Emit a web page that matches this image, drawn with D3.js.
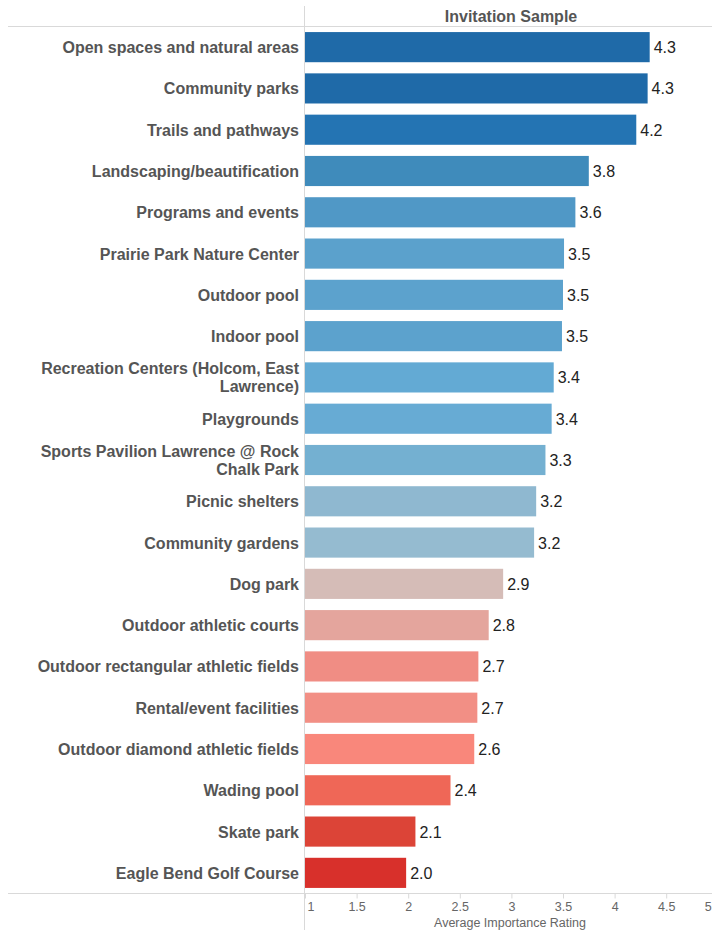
<!DOCTYPE html>
<html><head><meta charset="utf-8">
<script src="https://cdn.jsdelivr.net/npm/d3@7"></script>
<style>body{margin:0;background:#fff;}svg{display:block;font-family:"Liberation Sans",Arial,sans-serif;}</style>
</head><body><svg id="chart" width="712" height="930"></svg>
<script>
const categories = ["Open spaces and natural areas","Community parks","Trails and pathways","Landscaping/beautification","Programs and events","Prairie Park Nature Center","Outdoor pool","Indoor pool","Recreation Centers (Holcom, East Lawrence)","Playgrounds","Sports Pavilion Lawrence @ Rock Chalk Park","Picnic shelters","Community gardens","Dog park","Outdoor athletic courts","Outdoor rectangular athletic fields","Rental/event facilities","Outdoor diamond athletic fields","Wading pool","Skate park","Eagle Bend Golf Course"];
const values = [4.34,4.32,4.21,3.75,3.62,3.51,3.50,3.49,3.41,3.39,3.33,3.24,3.22,2.92,2.78,2.68,2.67,2.64,2.41,2.07,1.98];
const barColors = ["#1f6aa8","#1f6aa8","#2474b3","#3f8bbb","#5098c6","#5ba1cc","#5ca2cd","#5ca2cd","#63aad4","#67abd4","#74b0d1","#8fb8d0","#95bbd0","#d5bcb7","#e4a59d","#f08d84","#f28f85","#f9877b","#ef6757","#dc4437","#d8302b"];
const tickValues = [1,1.5,2,2.5,3,3.5,4,4.5,5];
const headerTitle = "Invitation Sample";
const axisTitle = "Average Importance Rating";

const svg = d3.select("#chart");
const x = d3.scaleLinear().domain([1,5]).range([305, 717.8]);
const y = d3.scaleBand().domain(categories).range([26.5, 893.5]).padding(0);
const barH = y.bandwidth()*0.73;

svg.append("line").attr("x1",8).attr("x2",712).attr("y1",26.5).attr("y2",26.5).attr("stroke","#d9d9d9");
svg.append("line").attr("x1",8).attr("x2",712).attr("y1",893.5).attr("y2",893.5).attr("stroke","#d9d9d9");
svg.append("line").attr("x1",304.5).attr("x2",304.5).attr("y1",6).attr("y2",930).attr("stroke","#d9d9d9");

svg.append("text").attr("x",511).attr("y",21.5).attr("text-anchor","middle")
  .attr("font-size",16).attr("font-weight","bold").attr("fill","#555").text(headerTitle);

svg.append("g").selectAll("rect").data(categories).join("rect")
  .attr("x", x(1)).attr("y", d=>y(d)+(y.bandwidth()-barH)/2)
  .attr("width",(d,i)=>x(values[i])-x(1)).attr("height",barH)
  .attr("fill",(d,i)=>barColors[i]);

svg.append("g").selectAll("text").data(categories).join("text")
  .attr("x",(d,i)=>x(values[i])+4).attr("y",d=>y(d)+y.bandwidth()/2+6)
  .attr("font-size",16).attr("fill","#222").text((d,i)=>values[i].toFixed(1));

const lg = svg.append("g");
categories.forEach(c=>{
  const t = lg.append("text").attr("x",299).attr("text-anchor","end")
    .attr("font-size",16).attr("font-weight","bold").attr("fill","#555");
  const words = c.split(" ");
  let lines=[], cur=[];
  const tmp = t.append("tspan");
  words.forEach(w=>{
    const test = cur.concat([w]).join(" ");
    tmp.text(test);
    if (tmp.node().getComputedTextLength() > 268 && cur.length){ lines.push(cur.join(" ")); cur=[w]; }
    else cur.push(w);
  });
  lines.push(cur.join(" "));
  tmp.remove();
  const lh = 18;
  const cy = y(c)+y.bandwidth()/2;
  lines.forEach((l,i)=>{
    t.append("tspan").attr("x",299).attr("y", cy + 6 + (i-(lines.length-1)/2)*lh).text(l);
  });
});

const ax = svg.append("g").attr("transform","translate(0,893.5)")
  .call(d3.axisBottom(x).tickValues(tickValues).tickSize(5).tickSizeOuter(0).tickFormat(d3.format("")));
ax.select(".domain").remove();
ax.selectAll(".tick line").attr("stroke","#d9d9d9");
ax.selectAll(".tick text").attr("fill","#666").attr("font-size",12.5).attr("dy",null).attr("y",17.5)
  .attr("font-family","Liberation Sans, Arial, sans-serif");
ax.selectAll(".tick").filter(d=>d===1).select("text").attr("text-anchor","start").attr("x",2);
ax.selectAll(".tick").filter(d=>d===5).select("text").attr("text-anchor","end").attr("x",-6.5);

svg.append("text").attr("x",510).attr("y",926.5).attr("text-anchor","middle")
  .attr("font-size",12.5).attr("fill","#666").text(axisTitle);
</script></body></html>
